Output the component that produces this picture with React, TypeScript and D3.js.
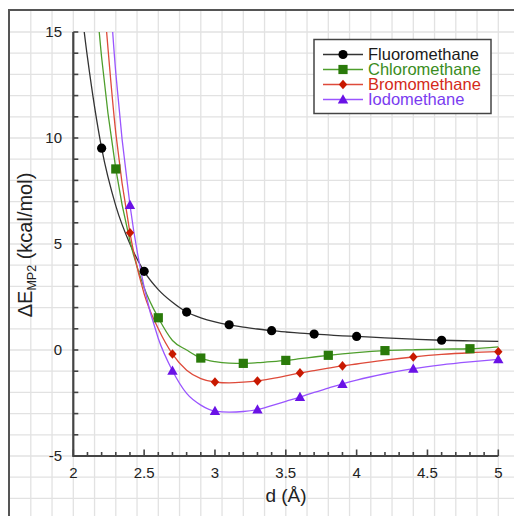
import React from "react";
import * as d3 from "d3";

const W = 514;
const H = 516;

// distances (Å)
const dValues = [2.0, 2.1, 2.2, 2.3, 2.4, 2.5, 2.6, 2.7, 2.8, 2.9, 3.0, 3.1, 3.2, 3.3, 3.4, 3.5, 3.6, 3.7, 3.8, 3.9, 4.0, 4.2, 4.4, 4.6, 4.8, 5.0];

// ΔE MP2 (kcal/mol)
const fluoromethane = [19.5, 13.8, 9.52, 6.8, 5.0, 3.71, 2.85, 2.25, 1.79, 1.52, 1.33, 1.19, 1.08, 0.99, 0.91, 0.85, 0.8, 0.75, 0.71, 0.67, 0.64, 0.57, 0.51, 0.46, 0.43, 0.41];
const chloromethane = [null, 21.9, 13.8, 8.54, 5.14, 2.94, 1.52, 0.45, 0.0, -0.38, -0.55, -0.62, -0.63, -0.6, -0.55, -0.49, -0.41, -0.33, -0.25, -0.18, -0.12, -0.03, 0.01, 0.04, 0.06, 0.15];
const bromomethane = [null, null, 17.9, 10.23, 5.53, 2.65, 1.0, -0.19, -0.95, -1.35, -1.51, -1.55, -1.52, -1.46, -1.35, -1.22, -1.08, -0.97, -0.86, -0.75, -0.66, -0.48, -0.33, -0.21, -0.13, -0.08];
const iodomethane = [null, null, 23.0, 13.06, 6.84, 2.96, 0.54, -0.98, -2.05, -2.6, -2.88, -2.93, -2.9, -2.81, -2.62, -2.42, -2.22, -2.0, -1.8, -1.6, -1.42, -1.12, -0.88, -0.7, -0.56, -0.44];

// distances carrying a marker
const fluoroMarkers = [2.2, 2.5, 2.8, 3.1, 3.4, 3.7, 4.0, 4.6];
const chloroMarkers = [2.3, 2.6, 2.9, 3.2, 3.5, 3.8, 4.2, 4.8];
const bromoMarkers = [2.4, 2.7, 3.0, 3.3, 3.6, 3.9, 4.4, 5.0];
const iodoMarkers = [2.4, 2.7, 3.0, 3.3, 3.6, 3.9, 4.4, 5.0];

const seriesNames = ["Fluoromethane", "Chloromethane", "Bromomethane", "Iodomethane"];

const xTickLabels = [2, 2.5, 3, 3.5, 4, 4.5, 5];
const yTickLabels = [-5, 0, 5, 10, 15];

const FONT = "'Liberation Sans', Arial, Helvetica, sans-serif";

type Series = {
  name: string;
  values: (number | null)[];
  markers: number[];
  line: string;
  fill: string;
  text: string;
  shape: "circle" | "square" | "diamond" | "triangle";
};

const series: Series[] = [
  { name: seriesNames[0], values: fluoromethane, markers: fluoroMarkers, line: "#333333", fill: "#000000", text: "#1a1a1a", shape: "circle" },
  { name: seriesNames[1], values: chloromethane, markers: chloroMarkers, line: "#4e9e2c", fill: "#2a7a0a", text: "#3a8c22", shape: "square" },
  { name: seriesNames[2], values: bromomethane, markers: bromoMarkers, line: "#de4a3a", fill: "#c81800", text: "#d42a1a", shape: "diamond" },
  { name: seriesNames[3], values: iodomethane, markers: iodoMarkers, line: "#9a55ff", fill: "#6a12e6", text: "#7a3cf0", shape: "triangle" },
];

const x = d3.scaleLinear().domain([2, 5]).range([73.3, 498.3]);
const y = d3.scaleLinear().domain([-5, 15]).range([456, 32]);

function Marker({ shape, cx, cy, fill }: { shape: string; cx: number; cy: number; fill: string }) {
  if (shape === "circle") return <circle cx={cx} cy={cy} r={4.6} fill={fill} />;
  if (shape === "square") return <rect x={cx - 4.6} y={cy - 4.6} width={9.2} height={9.2} fill={fill} />;
  if (shape === "diamond")
    return <path d={`M${cx},${cy - 4.8}L${cx + 4.2},${cy}L${cx},${cy + 4.8}L${cx - 4.2},${cy}Z`} fill={fill} />;
  return <path d={`M${cx},${cy - 5.2}L${cx + 5.2},${cy + 4}L${cx - 5.2},${cy + 4}Z`} fill={fill} />;
}

export default function App() {
  const plotLeft = x.range()[0];
  const plotRight = x.range()[1];
  const plotTop = y.range()[1];
  const plotBottom = y.range()[0];

  // background graph-paper grid (step 0.15 in x, 1 in y)
  const gridX: number[] = [];
  for (let k = -6; k <= 22; k++) {
    const px = x(2 + k * 0.15);
    if (px > 10 && px < W) gridX.push(px);
  }
  const gridY: number[] = [];
  for (let v = -10; v <= 16; v++) {
    const py = y(v);
    if (py > 11 && py < H) gridY.push(py);
  }

  const minorX = d3.range(0, 31).map((i) => 2 + i * 0.1);
  const minorY = d3.range(-5, 16);

  const lineGen = d3
    .line<[number, number | null]>()
    .defined((d) => d[1] !== null)
    .x((d) => x(d[0]))
    .y((d) => y(d[1] as number))
    .curve(d3.curveMonotoneX);

  const legendX = 314;
  const legendY = 39.5;
  const legendW = 177;
  const legendH = 74;

  return (
    <svg
      width={W}
      height={H}
      style={{ position: "fixed", left: 0, top: 0, background: "#fff" }}
      fontFamily={FONT}
    >
      <defs>
        <clipPath id="plotClip">
          <rect x={plotLeft} y={plotTop} width={plotRight - plotLeft + 6} height={plotBottom - plotTop} />
        </clipPath>
      </defs>
      <rect x={0} y={0} width={W} height={H} fill="#fff" />
      {/* grid */}
      <g stroke="#e2e2e2" strokeWidth={1.3}>
        {gridX.map((px, i) => (
          <line key={"gx" + i} x1={px} x2={px} y1={10} y2={H} />
        ))}
        {gridY.map((py, i) => (
          <line key={"gy" + i} x1={9} x2={W} y1={py} y2={py} />
        ))}
      </g>
      {/* outer frame */}
      <path d={`M9,${H}V10H${W}`} fill="none" stroke="#555" strokeWidth={2} />

      {/* curves */}
      <g clipPath="url(#plotClip)">
        {series.map((s) => (
          <path
            key={s.name}
            d={lineGen(dValues.map((d, i) => [d, s.values[i]] as [number, number | null])) || ""}
            fill="none"
            stroke={s.line}
            strokeWidth={1.3}
          />
        ))}
      </g>
      {series.map((s) =>
        s.markers.map((m) => {
          const idx = dValues.findIndex((d) => Math.abs(d - m) < 1e-6);
          const v = s.values[idx] as number;
          return <Marker key={s.name + m} shape={s.shape} cx={x(m)} cy={y(v)} fill={s.fill} />;
        })
      )}

      {/* axes */}
      <g stroke="#444" strokeWidth={1.6}>
        {minorX.map((v, i) => {
          const major = i % 5 === 0;
          return <line key={"tx" + i} x1={x(v)} x2={x(v)} y1={plotBottom} y2={plotBottom - (major ? 6.5 : 4)} />;
        })}
        {minorY.map((v) => (
          <line key={"ty" + v} x1={plotLeft} x2={plotLeft + 5} y1={y(v)} y2={y(v)} />
        ))}
      </g>
      <path
        d={`M${plotLeft},${plotTop}V${plotBottom}H${plotRight}`}
        fill="none"
        stroke="#444"
        strokeWidth={2.2}
      />

      {/* tick labels */}
      <g fontSize={15} fill="#222">
        {xTickLabels.map((v) => (
          <text key={"xl" + v} x={x(v)} y={478} textAnchor="middle">
            {v}
          </text>
        ))}
        {yTickLabels.map((v) => (
          <text key={"yl" + v} x={62} y={y(v) + 5} textAnchor="end">
            {v < 0 ? "-" + Math.abs(v) : v}
          </text>
        ))}
      </g>

      {/* axis titles */}
      <text x={286} y={502} textAnchor="middle" fontSize={19} fill="#222">
        d (Å)
      </text>
      <text transform="translate(32,245) rotate(-90)" textAnchor="middle" fontSize={20} fill="#222">
        ΔE
        <tspan fontSize={12.5} dy={4}>
          MP2
        </tspan>
        <tspan dy={-4}> (kcal/mol)</tspan>
      </text>

      {/* legend */}
      <rect x={legendX} y={legendY} width={legendW} height={legendH} fill="#fff" stroke="#444" strokeWidth={1.5} />
      {series.map((s, i) => {
        const ry = 54.5 + i * 15;
        return (
          <g key={"lg" + s.name}>
            <line x1={323} x2={363} y1={ry} y2={ry} stroke={s.line} strokeWidth={1.4} />
            <Marker shape={s.shape} cx={343} cy={ry} fill={s.fill} />
            <text x={368} y={ry + 5.5} fontSize={16.5} fill={s.text}>
              {s.name}
            </text>
          </g>
        );
      })}
    </svg>
  );
}
